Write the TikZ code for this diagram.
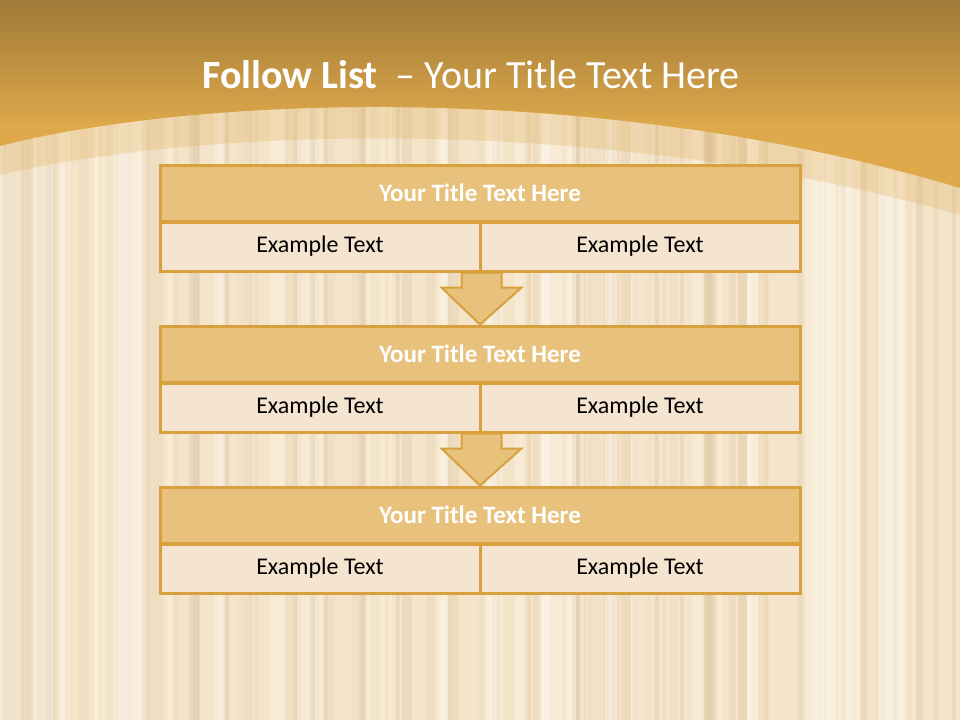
\documentclass[tikz,border=0pt]{standalone}
\usepackage{fontspec}
\setmainfont{Carlito}
\usetikzlibrary{calc}

\definecolor{curtain}{HTML}{F4E4C9}
\definecolor{stripedark}{HTML}{D9C3A2}
\definecolor{stripelight}{HTML}{FCF4E6}
\definecolor{goldtop}{HTML}{A07A38}
\definecolor{goldbot}{HTML}{DEA94B}
\definecolor{rowhead}{HTML}{E8C27C}
\definecolor{rowbody}{HTML}{F5E5D0}
\definecolor{rowframe}{HTML}{D9A03E}

\tikzset{
  headcell/.style={draw=rowframe, fill=rowhead, line width=3pt,
    minimum width=640pt, minimum height=56pt, inner sep=0pt,
    text=white, font=\fontsize{25}{30}\selectfont\bfseries},
  bodycell/.style={draw=rowframe, fill=rowbody, line width=3pt,
    minimum width=320pt, minimum height=49pt, inner sep=0pt,
    font=\fontsize{24}{29}\selectfont},
  flowarrow/.style={draw=rowframe, fill=rowhead, line width=2pt, line join=miter}
}

\begin{document}
\begin{tikzpicture}[x=1pt, y=-1pt]

% Background curtain
\fill[curtain] (0,0) rectangle (960,720);
\useasboundingbox (0,0) rectangle (960,720);
\pgfmathsetseed{11}
\foreach \k in {1,...,110} {
  \pgfmathsetmacro{\sx}{rnd*960}
  \pgfmathsetmacro{\sw}{2+rnd*10}
  \pgfmathsetmacro{\so}{0.08+rnd*0.22}
  \fill[stripedark, opacity=\so] (\sx,0) rectangle ++(\sw,720);
}
\foreach \k in {1,...,60} {
  \pgfmathsetmacro{\sx}{rnd*960}
  \pgfmathsetmacro{\sw}{3+rnd*12}
  \fill[stripelight, opacity=0.45] (\sx,0) rectangle ++(\sw,720);
}

% Light band under the header
\fill[goldbot, opacity=0.25] (0,146) .. controls (200,95) and (600,80) .. (960,188)
  -- (960,215) .. controls (600,112) and (200,128) .. (0,175) -- cycle;

% Header band
\begin{scope}
  \clip (0,0) -- (960,0) -- (960,188) .. controls (600,80) and (200,95) .. (0,146) -- cycle;
  \fill[goldbot] (0,0) rectangle (960,200);
  \shade[top color=goldtop, bottom color=goldbot] (0,0) rectangle (960,128);
\end{scope}

% Title
\node[text=white, font=\fontsize{40}{48}\selectfont] (title) at (471,75)
  {\textbf{Follow List}\ \ -- Your Title Text Here};

% Blocks
\foreach \i/\top in {1/165, 2/326, 3/487} {
  \node[headcell] (h\i) at (480,\top+28) {Your Title Text Here};
  \node[bodycell] (l\i) at (320,\top+56+25.5) {Example Text};
  \node[bodycell] (r\i) at (640,\top+56+25.5) {Example Text};
}

% Arrows between blocks
\foreach \i/\j in {1/2, 2/3} {
  \coordinate (a\i) at (l\i.south east);
  \draw[flowarrow] ($(a\i)+(-20,0)$) -- ++(0,15) -- ++(-20,0) -- (h\j.north)
    -- ($(a\i)+(40,15)$) -- ++(-20,0) -- ++(0,-15) -- cycle;
}

\end{tikzpicture}
\end{document}
